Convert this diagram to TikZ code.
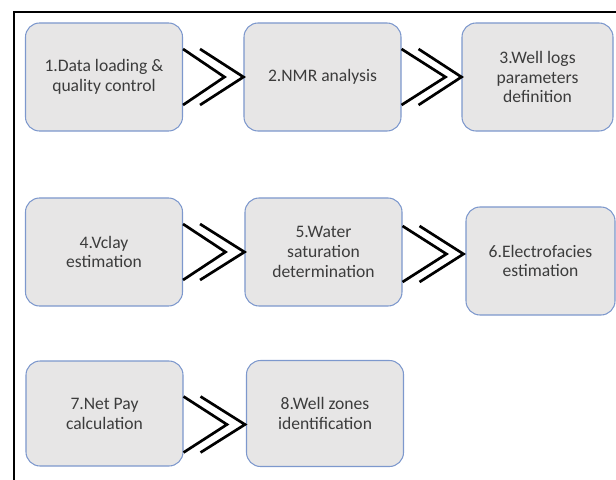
\documentclass[tikz,border=0pt]{standalone}
\usepackage{fontspec}
\setmainfont{Carlito}
\usetikzlibrary{calc}

\definecolor{boxblue}{RGB}{125,152,205}
\definecolor{boxgray}{RGB}{231,230,230}
\definecolor{textgray}{RGB}{60,60,60}

\begin{document}
\begin{tikzpicture}[x=0.03cm,y=-0.03cm,font=\fontsize{15}{17}\selectfont,
    box/.style={draw=boxblue,fill=boxgray,line width=0.9pt,rounded corners=12pt,
        align=center,text=textgray,inner sep=0pt,minimum width=4.71cm,minimum height=3.24cm},
    chev/.style={line width=2.3pt,black}]
            \useasboundingbox (0,0) rectangle (616,480);
            % frame
            \draw[line width=2.4pt] (14,480) -- (14,12) -- (616,12);

            % first row
            \node[box] (n1) at (104,77) {1.Data loading \&\\quality control};
            \node[box] (n2) at (322.5,77) {2.NMR analysis};
            \node[box,minimum width=4.53cm] (n3) at (537.5,77) {3.Well logs\\parameters\\definition};
            % second row
            \node[box] (n4) at (104,252) {4.Vclay\\estimation};
            \node[box] (n5) at (323.5,252) {5.Water\\saturation\\determination};
            \node[box,minimum width=4.47cm] (n6) at (540.5,261) {6.Electrofacies\\estimation};
            % third row
            \node[box,minimum height=3.15cm] (n7) at (104.5,413.5) {7.Net Pay\\calculation};
            \node[box,minimum height=3.18cm] (n8) at (325,413.5) {8.Well zones\\identification};

            % 1 -> 2
            \draw[chev] ($(n1.east)+(0,-28)$) -- ($(n1.east -| n2.west)+(-19,0)$) -- ($(n1.east)+(0,28)$);
            \draw[chev] ($(n1.east)+(17,-28)$) -- (n1.east -| n2.west) -- ($(n1.east)+(17,28)$);
            % 2 -> 3
            \draw[chev] ($(n2.east)+(0,-28)$) -- ($(n2.east -| n3.west)+(-16,0)$) -- ($(n2.east)+(0,28)$);
            \draw[chev] ($(n2.east)+(17,-28)$) -- (n2.east -| n3.west) -- ($(n2.east)+(17,28)$);
            % 4 -> 5
            \draw[chev] ($(n4.east)+(0,-28)$) -- ($(n4.east -| n5.west)+(-19,0)$) -- ($(n4.east)+(0,28)$);
            \draw[chev] ($(n4.east)+(17,-28)$) -- (n4.east -| n5.west) -- ($(n4.east)+(17,28)$);
            % 5 -> 6
            \draw[chev] ($(n5.east)+(0,-26)$) -- ($(n5.east -| n6.west)+(-19,2)$) -- ($(n5.east)+(0,30)$);
            \draw[chev] ($(n5.east)+(17,-26)$) -- ($(n5.east -| n6.west)+(-2,2)$) -- ($(n5.east)+(17,30)$);
            % 7 -> 8
            \draw[chev] ($(n7.east)+(0,-17)$) -- ($(n7.east -| n8.west)+(-19,11)$) -- ($(n7.east)+(0,39)$);
            \draw[chev] ($(n7.east)+(17,-17)$) -- ($(n7.east -| n8.west)+(-1,11)$) -- ($(n7.east)+(17,39)$);
        \end{tikzpicture}
\end{document}
